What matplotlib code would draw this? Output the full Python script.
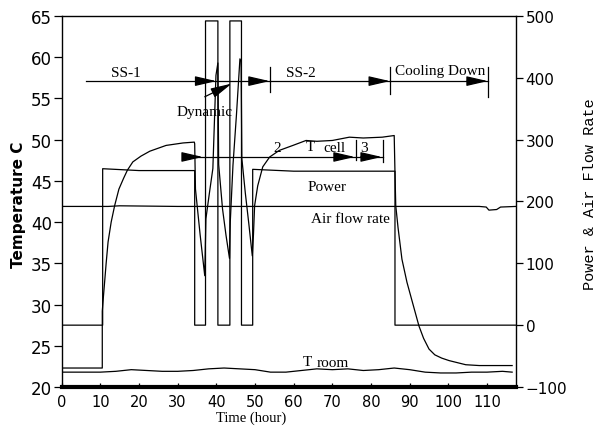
import matplotlib
matplotlib.use("Agg")
import matplotlib.pyplot as plt

# ---------------- data ----------------
cell_t = [0, 10.5, 10.5, 10.8, 11.1, 11.5, 12.0, 12.8, 13.7, 14.8, 16.0, 17.0,
          18.4, 20.5, 22.8, 27.0,
          31.4, 34.3, 34.4, 34.6, 35.8, 37.0, 37.3, 38.2, 39.1, 39.9,
          40.4, 40.6, 41.6, 42.5, 43.4, 43.6, 44.3, 45.2, 46.1, 46.4,
          46.6, 47.5, 48.4, 49.3, 49.6, 49.9, 50.7, 52.0, 53.8, 56.3,
          59.8, 63.2, 66.0, 70.0, 74.4, 78.0, 82.9, 86.0, 86.2, 86.4,
          87.0, 88.0, 89.3, 90.7, 92.4, 93.6, 95.0, 96.5, 98.3, 100.2,
          104.5, 108.0, 113.0, 116.5]
cell_v = [22.3, 22.3, 29.2, 31.0, 32.7, 35.0, 37.6, 40.0, 42.0, 44.0, 45.3, 46.3,
          47.3, 48.0, 48.6, 49.3,
          49.6, 49.7, 49.5, 44.0, 38.5, 33.5, 40.4, 43.5, 46.5, 57.8,
          59.3, 47.0, 41.6, 38.4, 35.6, 40.0, 46.9, 53.0, 59.8, 59.5,
          47.7, 43.5, 39.8, 35.9, 38.5, 42.0, 44.4, 46.7, 47.9, 48.7,
          49.3, 49.9, 49.8, 49.9, 50.3, 50.2, 50.3, 50.5, 46.0, 42.0,
          39.3, 35.5, 32.7, 30.3, 27.4, 25.9, 24.6, 23.9, 23.5, 23.2,
          22.7, 22.6, 22.6, 22.6]

room_t = [0, 5, 10, 14, 18, 22, 26, 30, 34, 38, 42, 46, 50, 54, 58,
          62, 66, 70, 74, 78, 82, 86, 90, 94, 98, 102, 106, 110, 114, 116.5]
room_v = [21.8, 21.8, 21.8, 21.9, 22.1, 22.0, 21.9, 21.9, 22.0, 22.2,
          22.3, 22.2, 22.1, 21.8, 21.8, 22.0, 22.2, 22.1, 22.2, 22.0,
          22.1, 22.3, 22.1, 21.8, 21.7, 21.7, 21.8, 21.8, 21.9, 21.8]

power_t = [0, 10.6, 10.6, 20, 34.4, 34.4, 37.2, 37.2, 40.4, 40.4,
           43.5, 43.5, 46.5, 46.5, 49.4, 49.4, 60, 86.2, 86.2, 117.5]
power_v = [0, 0, 253, 250, 250, 0, 0, 492, 492, 0,
           0, 492, 492, 0, 0, 252, 249, 249, 0, 0]

air_t = [0, 12, 15, 30, 50, 70, 90, 108, 109.8, 110.5, 112.5, 113.5, 117.5]
air_v = [192, 192, 193, 192, 192, 192, 192, 192, 191, 186, 187, 191, 192]

x_ticks = [0, 10, 20, 30, 40, 50, 60, 70, 80, 90, 100, 110]
left_ticks = [20, 25, 30, 35, 40, 45, 50, 55, 60, 65]
right_ticks = [-100, 0, 100, 200, 300, 400, 500]

# ---------------- figure ----------------
fig = plt.figure(figsize=(6.0, 4.31), dpi=100)
ax = fig.add_axes([0.1028, 0.0998, 0.7572, 0.8608])
ax2 = ax.twinx()

lw = 0.9
ax.plot(cell_t, cell_v, color="black", lw=lw)
ax.plot(room_t, room_v, color="black", lw=lw)
ax2.plot(power_t, power_v, color="black", lw=lw)
ax2.plot(air_t, air_v, color="black", lw=lw)

ax.set_xlim(0, 117.5)
ax.set_ylim(20, 65)
ax2.set_ylim(-100, 500)

ax.set_xticks(x_ticks)
ax.set_yticks(left_ticks)
ax2.set_yticks(right_ticks)

ax.tick_params(axis="y", direction="out", length=5.5, width=0.9, pad=1.5, labelsize=12)
ax.tick_params(axis="x", direction="in", length=3, width=0.9, pad=5, labelsize=10.5)
ax2.tick_params(axis="y", direction="out", length=5, width=0.9, pad=2, labelsize=11)

for s in ["left", "top"]:
    ax.spines[s].set_linewidth(1.0)
ax.spines["right"].set_visible(False)
ax.spines["bottom"].set_linewidth(3.0)
for s in ["left", "top", "bottom"]:
    ax2.spines[s].set_visible(False)
ax2.spines["right"].set_linewidth(1.0)

# ---------------- annotations ----------------
serif = "Liberation Serif"
arrow_kw = dict(arrowstyle="-|>,head_length=1.3,head_width=0.3", color="black", lw=0.9,
                shrinkA=0, shrinkB=0)

def arrow_head(x0, x1, y):
    ax.annotate("", xy=(x1, y), xytext=(x0, y), arrowprops=arrow_kw)

# phase row
row1_y = 57.1
ax.plot([6.4, 53.8], [row1_y, row1_y], color="black", lw=lw)
ax.plot([53.8, 85.0], [row1_y, row1_y], color="black", lw=lw)
ax.plot([85.0, 110.3], [row1_y, row1_y], color="black", lw=lw)
for tx, lo, hi in [(53.8, 55.8, 58.8), (85.0, 55.5, 58.8), (110.3, 55.2, 58.8)]:
    ax.plot([tx, tx], [lo, hi], color="black", lw=lw)
for a, b in [(36.0, 40.0), (48.6, 53.8), (79.6, 84.9), (104.8, 110.2)]:
    arrow_head(a, b, row1_y)

# Dynamic arrow
ax.annotate("", xy=(44.0, 56.8), xytext=(37.0, 55.2), arrowprops=arrow_kw)

# second row
row2_y = 47.9
ax.plot([31.8, 83.0], [row2_y, row2_y], color="black", lw=lw)
for tx, lo, hi in [(76.0, 47.5, 49.9), (83.0, 47.3, 49.9)]:
    ax.plot([tx, tx], [lo, hi], color="black", lw=lw)
for a, b in [(31.8, 36.5), (71.0, 75.8), (77.3, 82.8)]:
    arrow_head(a, b, row2_y)

txt = dict(family=serif, fontsize=11, color="black")
ax.text(16.6, 57.4, "SS-1", ha="center", va="bottom", **txt)
ax.text(61.8, 57.4, "SS-2", ha="center", va="bottom", **txt)
ax.text(98.0, 57.6, "Cooling Down", ha="center", va="bottom", **txt)
ax.text(36.9, 53.4, "Dynamic", ha="center", va="center", **txt)
ax.text(55.8, 48.3, "2", ha="center", va="bottom", **txt)
ax.text(64.3, 48.4, "T", ha="center", va="bottom", **txt)
ax.text(70.5, 48.3, "cell", ha="center", va="bottom", **txt)
ax.text(78.3, 48.3, "3", ha="center", va="bottom", **txt)
ax.text(68.6, 44.3, "Power", ha="center", va="center", **txt)
ax.text(74.8, 40.4, "Air flow rate", ha="center", va="center", **txt)
ax.text(63.5, 22.3, "T", ha="center", va="bottom", **txt)
ax.text(70.0, 22.2, "room", ha="center", va="bottom", **txt)

# axis labels
fig.text(19 / 600, 1 - 205 / 431, "Temperature C", rotation=90, ha="center", va="center",
         fontsize=11, fontweight="bold", family="DejaVu Sans")
fig.text(590 / 600, 1 - 194 / 431, "Power & Air Flow Rate", rotation=90, ha="center",
         va="center", fontsize=11, family="Liberation Mono")
fig.text(251 / 600, 1 - 418 / 431, "Time (hour)", ha="center", va="center",
         fontsize=10.5, family=serif)

fig.savefig("out.png", dpi=100)
